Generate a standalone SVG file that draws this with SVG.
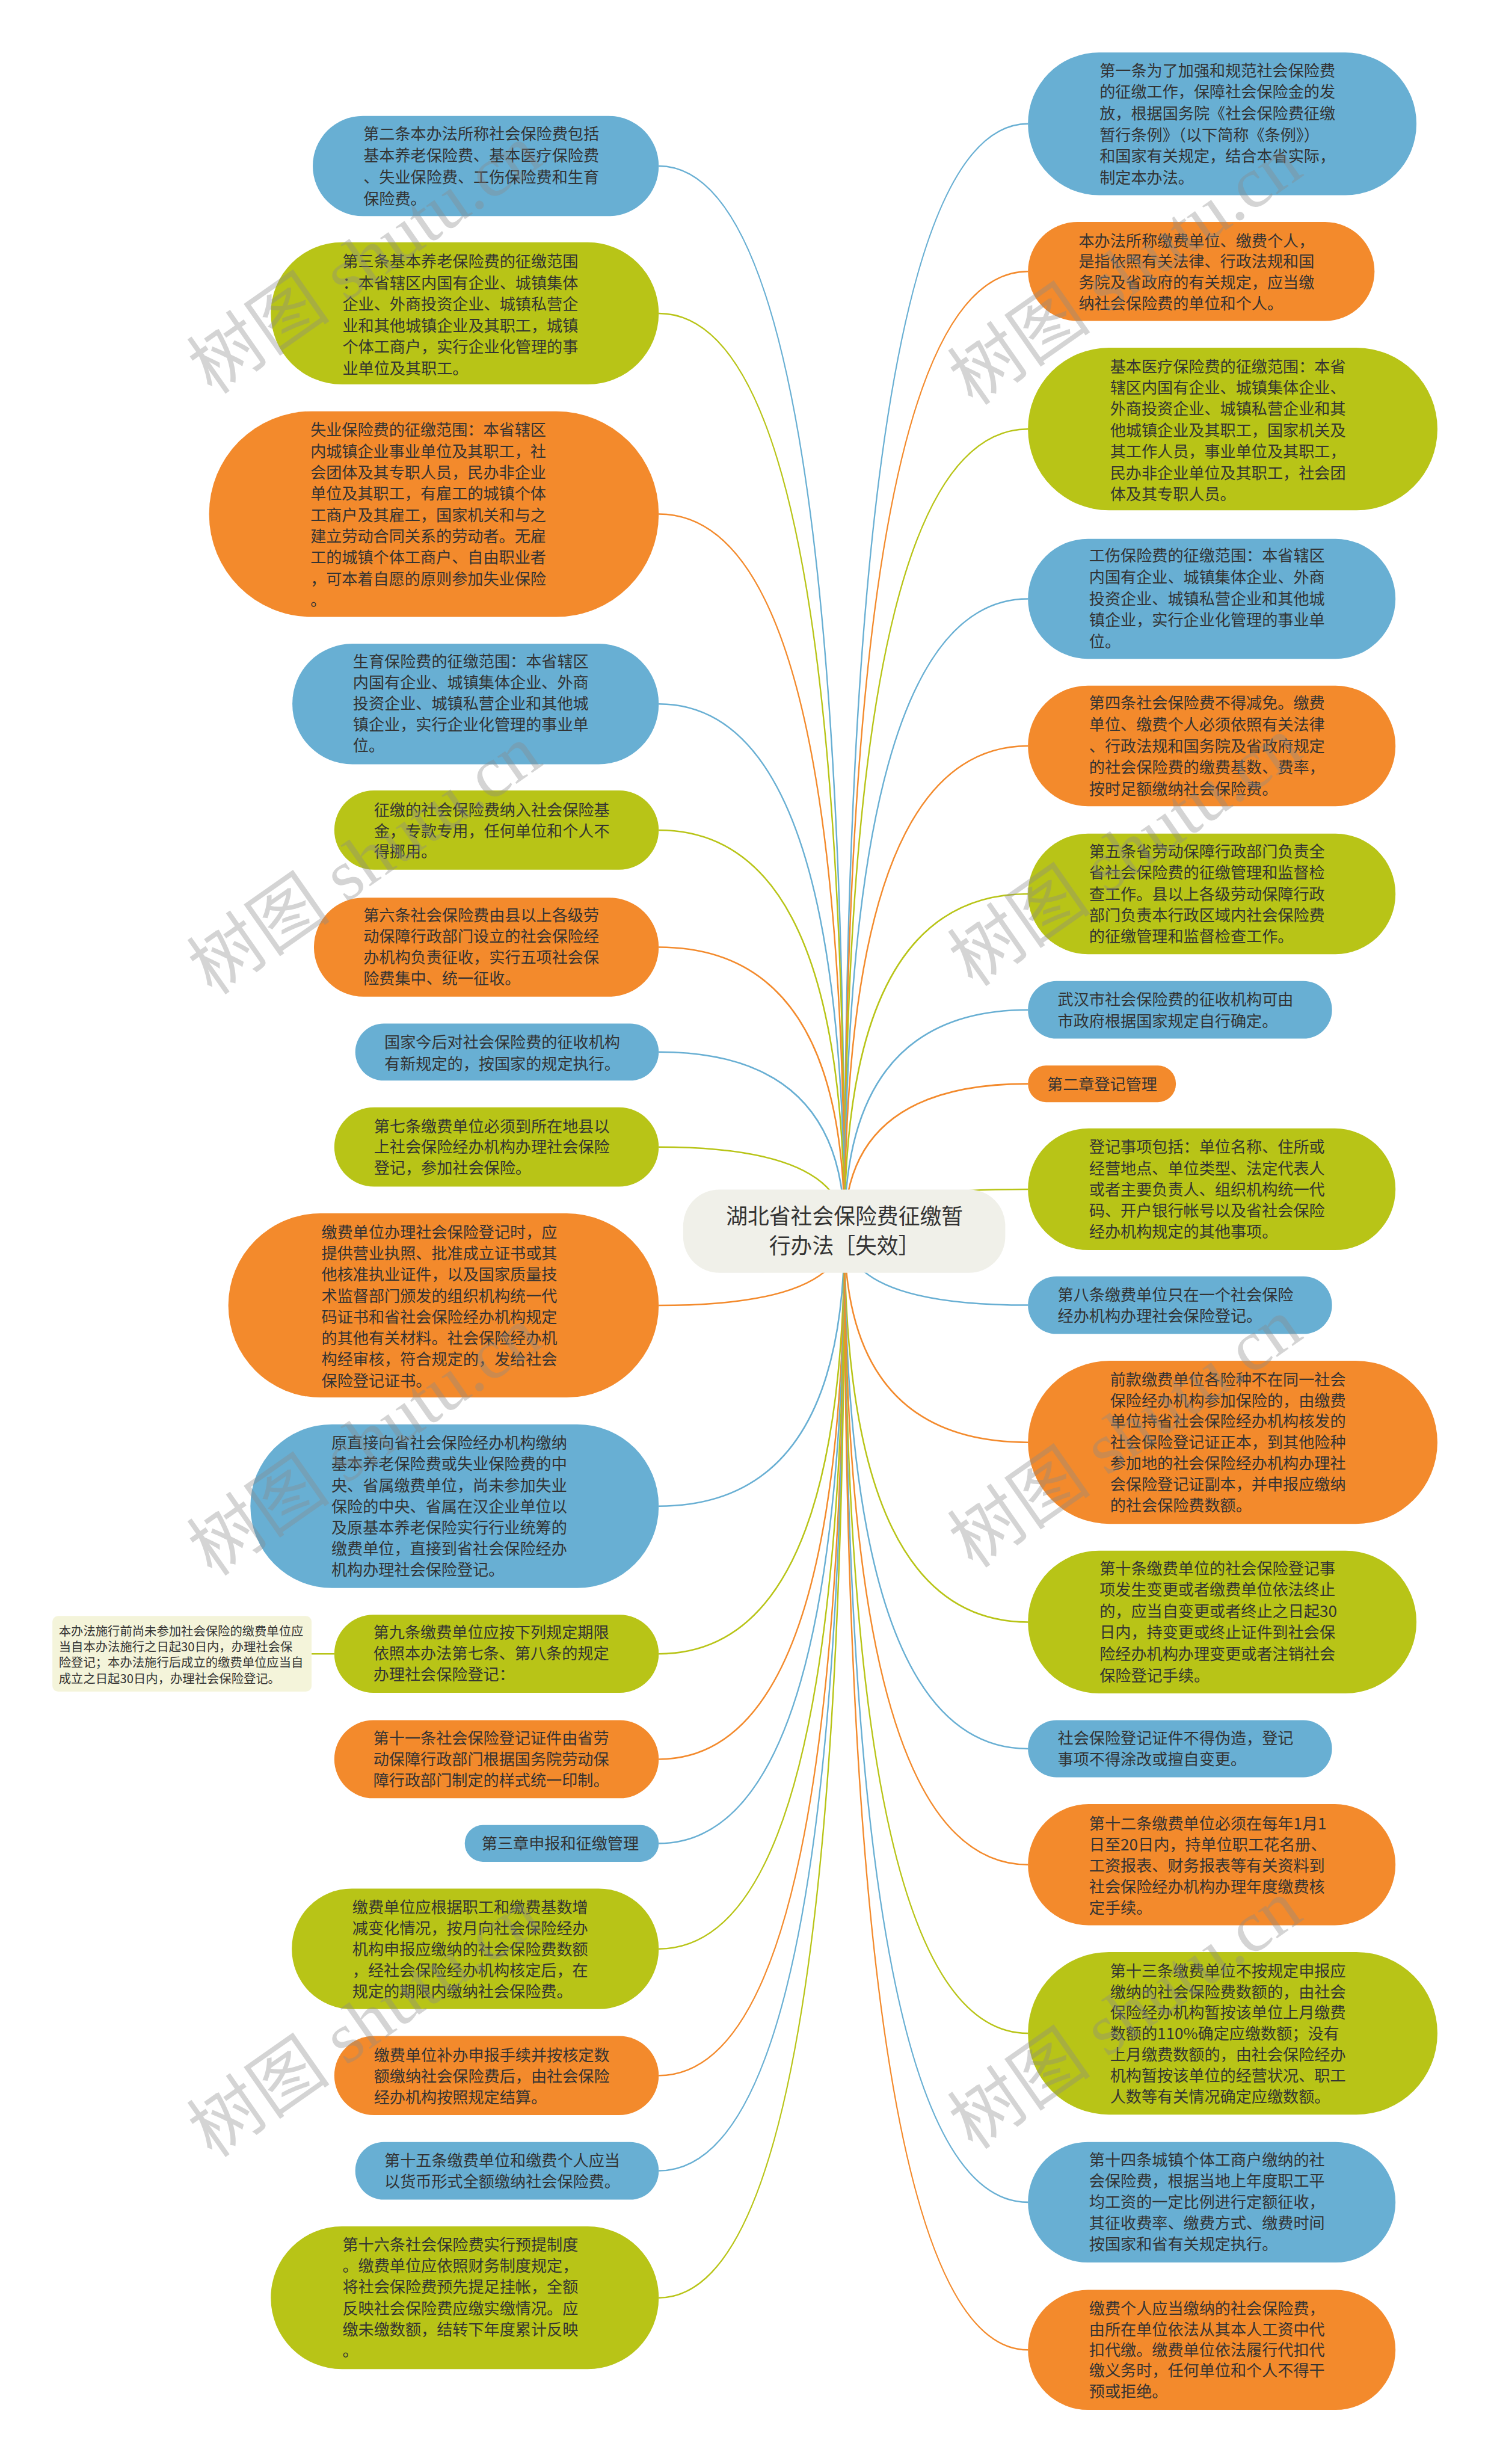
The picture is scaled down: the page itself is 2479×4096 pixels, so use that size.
<svg xmlns="http://www.w3.org/2000/svg" width="2479" height="4096" viewBox="0 0 2479 4096">
<style>
.t{font-family:"Noto Sans CJK SC","Noto Sans",sans-serif;font-size:27px;fill:#333333}
.n{font-family:"Noto Sans CJK SC","Noto Sans",sans-serif;font-size:21px;fill:#333333}
.rt{font-family:"Noto Sans CJK SC","Noto Sans",sans-serif;font-size:37px;fill:#333333;text-anchor:middle}
.b{fill:#68afd3}.g{fill:#b8c417}.o{fill:#f38a2c}
.cb{stroke:#68afd3}.cg{stroke:#b8c417}.co{stroke:#f38a2c}
#connectors path{fill:none;stroke-width:2.6}
.wm{font-family:"Liberation Serif","Noto Sans CJK SC",serif;font-size:124px;fill:#8a8a8a;opacity:0.36}
</style>
<rect width="2479" height="4096" fill="#ffffff"/>
<g transform="scale(0.968359)">
<g id="connectors">
<path class="cb" d="M1131,285 Q1450,285 1450,2113"/>
<path class="cg" d="M1131,538 Q1450,538 1450,2113"/>
<path class="co" d="M1131,882.5 Q1450,882.5 1450,2113"/>
<path class="cb" d="M1131,1208.5 Q1450,1208.5 1450,2113"/>
<path class="cg" d="M1131,1425 Q1450,1425 1450,2113"/>
<path class="co" d="M1131,1626 Q1450,1626 1450,2113"/>
<path class="cb" d="M1131,1806 Q1450,1806 1450,2113"/>
<path class="cg" d="M1131,1969 Q1450,1969 1450,2113"/>
<path class="co" d="M1131,2241 Q1450,2241 1450,2113"/>
<path class="cb" d="M1131,2585.5 Q1450,2585.5 1450,2113"/>
<path class="cg" d="M1131,2839 Q1450,2839 1450,2113"/>
<path class="co" d="M1131,3020 Q1450,3020 1450,2113"/>
<path class="cb" d="M1131,3164.5 Q1450,3164.5 1450,2113"/>
<path class="cg" d="M1131,3345.5 Q1450,3345.5 1450,2113"/>
<path class="co" d="M1131,3563 Q1450,3563 1450,2113"/>
<path class="cb" d="M1131,3726.5 Q1450,3726.5 1450,2113"/>
<path class="cg" d="M1131,3944.5 Q1450,3944.5 1450,2113"/>
<path class="cb" d="M1765,212.5 Q1450,212.5 1450,2113"/>
<path class="co" d="M1765,466 Q1450,466 1450,2113"/>
<path class="cg" d="M1765,736.5 Q1450,736.5 1450,2113"/>
<path class="cb" d="M1765,1028 Q1450,1028 1450,2113"/>
<path class="co" d="M1765,1280.5 Q1450,1280.5 1450,2113"/>
<path class="cg" d="M1765,1534.5 Q1450,1534.5 1450,2113"/>
<path class="cb" d="M1765,1733.5 Q1450,1733.5 1450,2113"/>
<path class="co" d="M1765,1860.5 Q1450,1860.5 1450,2113"/>
<path class="cg" d="M1765,2041.5 Q1450,2041.5 1450,2113"/>
<path class="cb" d="M1765,2240.5 Q1450,2240.5 1450,2113"/>
<path class="co" d="M1765,2476 Q1450,2476 1450,2113"/>
<path class="cg" d="M1765,2784.5 Q1450,2784.5 1450,2113"/>
<path class="cb" d="M1765,3002 Q1450,3002 1450,2113"/>
<path class="co" d="M1765,3201 Q1450,3201 1450,2113"/>
<path class="cg" d="M1765,3490.5 Q1450,3490.5 1450,2113"/>
<path class="cb" d="M1765,3780.5 Q1450,3780.5 1450,2113"/>
<path class="co" d="M1765,4034 Q1450,4034 1450,2113"/>
<path class="cg" d="M535,2839 L574,2839"/>
</g>

<g id="root">
<rect x="1173" y="2042" width="553" height="143" rx="62" fill="#f0f0e9"/>
<text class="rt"><tspan x="1450" y="2101">湖北省社会保险费征缴暂</tspan><tspan x="1450" y="2152">行办法［失效］</tspan></text>
</g>

<g id="L1"><rect class="b" x="537" y="199" width="594" height="172" rx="86"/>
<text class="t"><tspan x="624" y="240">第二条本办法所称社会保险费包括</tspan><tspan x="624" y="277">基本养老保险费、基本医疗保险费</tspan><tspan x="624" y="314">、失业保险费、工伤保险费和生育</tspan><tspan x="624" y="351">保险费。</tspan></text></g>

<g id="L2"><rect class="g" x="465" y="416" width="666" height="244" rx="122"/>
<text class="t"><tspan x="588" y="459">第三条基本养老保险费的征缴范围</tspan><tspan x="588" y="495.6">：本省辖区内国有企业、城镇集体</tspan><tspan x="588" y="532.2">企业、外商投资企业、城镇私营企</tspan><tspan x="588" y="568.8">业和其他城镇企业及其职工，城镇</tspan><tspan x="588" y="605.4">个体工商户，实行企业化管理的事</tspan><tspan x="588" y="642">业单位及其职工。</tspan></text></g>

<g id="L3"><rect class="o" x="359" y="706" width="772" height="353" rx="176"/>
<text class="t"><tspan x="533" y="748">失业保险费的征缴范围：本省辖区</tspan><tspan x="533" y="784.5">内城镇企业事业单位及其职工，社</tspan><tspan x="533" y="821">会团体及其专职人员，民办非企业</tspan><tspan x="533" y="857.5">单位及其职工，有雇工的城镇个体</tspan><tspan x="533" y="894">工商户及其雇工，国家机关和与之</tspan><tspan x="533" y="930.5">建立劳动合同关系的劳动者。无雇</tspan><tspan x="533" y="967">工的城镇个体工商户、自由职业者</tspan><tspan x="533" y="1003.5">，可本着自愿的原则参加失业保险</tspan><tspan x="533" y="1040">。</tspan></text></g>

<g id="L4"><rect class="b" x="502" y="1105" width="629" height="207" rx="103"/>
<text class="t"><tspan x="606" y="1145">生育保险费的征缴范围：本省辖区</tspan><tspan x="606" y="1181.3">内国有企业、城镇集体企业、外商</tspan><tspan x="606" y="1217.6">投资企业、城镇私营企业和其他城</tspan><tspan x="606" y="1253.9">镇企业，实行企业化管理的事业单</tspan><tspan x="606" y="1290.2">位。</tspan></text></g>

<g id="L5"><rect class="g" x="574" y="1357" width="557" height="136" rx="68"/>
<text class="t"><tspan x="642" y="1400">征缴的社会保险费纳入社会保险基</tspan><tspan x="642" y="1436">金，专款专用，任何单位和个人不</tspan><tspan x="642" y="1472">得挪用。</tspan></text></g>

<g id="L6"><rect class="o" x="539" y="1541" width="592" height="170" rx="85"/>
<text class="t"><tspan x="624" y="1581">第六条社会保险费由县以上各级劳</tspan><tspan x="624" y="1617">动保障行政部门设立的社会保险经</tspan><tspan x="624" y="1653">办机构负责征收，实行五项社会保</tspan><tspan x="624" y="1689">险费集中、统一征收。</tspan></text></g>

<g id="L7"><rect class="b" x="610" y="1757" width="521" height="98" rx="49"/>
<text class="t"><tspan x="660" y="1799">国家今后对社会保险费的征收机构</tspan><tspan x="660" y="1836">有新规定的，按国家的规定执行。</tspan></text></g>

<g id="L8"><rect class="g" x="574" y="1901" width="557" height="136" rx="68"/>
<text class="t"><tspan x="642" y="1943">第七条缴费单位必须到所在地县以</tspan><tspan x="642" y="1979">上社会保险经办机构办理社会保险</tspan><tspan x="642" y="2015">登记，参加社会保险。</tspan></text></g>

<g id="L9"><rect class="o" x="392" y="2083" width="739" height="316" rx="158"/>
<text class="t"><tspan x="552" y="2125">缴费单位办理社会保险登记时，应</tspan><tspan x="552" y="2161.4">提供营业执照、批准成立证书或其</tspan><tspan x="552" y="2197.8">他核准执业证件，以及国家质量技</tspan><tspan x="552" y="2234.2">术监督部门颁发的组织机构统一代</tspan><tspan x="552" y="2270.6">码证书和省社会保险经办机构规定</tspan><tspan x="552" y="2307">的其他有关材料。社会保险经办机</tspan><tspan x="552" y="2343.4">构经审核，符合规定的，发给社会</tspan><tspan x="552" y="2379.8">保险登记证书。</tspan></text></g>

<g id="L10"><rect class="b" x="430" y="2445" width="701" height="281" rx="140"/>
<text class="t"><tspan x="569" y="2487">原直接向省社会保险经办机构缴纳</tspan><tspan x="569" y="2523.3">基本养老保险费或失业保险费的中</tspan><tspan x="569" y="2559.6">央、省属缴费单位，尚未参加失业</tspan><tspan x="569" y="2595.9">保险的中央、省属在汉企业单位以</tspan><tspan x="569" y="2632.2">及原基本养老保险实行行业统筹的</tspan><tspan x="569" y="2668.5">缴费单位，直接到省社会保险经办</tspan><tspan x="569" y="2704.8">机构办理社会保险登记。</tspan></text></g>

<g id="L11"><rect class="g" x="574" y="2772" width="557" height="134" rx="67"/>
<text class="t"><tspan x="641" y="2812">第九条缴费单位应按下列规定期限</tspan><tspan x="641" y="2848">依照本办法第七条、第八条的规定</tspan><tspan x="641" y="2884">办理社会保险登记：</tspan></text></g>

<g id="note"><rect x="90" y="2774" width="445" height="130" rx="10" fill="#f4f4da"/>
<text class="n"><tspan x="101" y="2808">本办法施行前尚未参加社会保险的缴费单位应</tspan><tspan x="101" y="2835">当自本办法施行之日起30日内，办理社会保</tspan><tspan x="101" y="2862">险登记；本办法施行后成立的缴费单位应当自</tspan><tspan x="101" y="2889">成立之日起30日内，办理社会保险登记。</tspan></text></g>

<g id="L12"><rect class="o" x="574" y="2953" width="557" height="134" rx="67"/>
<text class="t"><tspan x="641" y="2994">第十一条社会保险登记证件由省劳</tspan><tspan x="641" y="3030">动保障行政部门根据国务院劳动保</tspan><tspan x="641" y="3066">障行政部门制定的样式统一印制。</tspan></text></g>

<g id="L13"><rect class="b" x="798" y="3133" width="333" height="63" rx="31"/>
<text class="t"><tspan x="827" y="3174">第三章申报和征缴管理</tspan></text></g>

<g id="L14"><rect class="g" x="501" y="3242" width="630" height="207" rx="103"/>
<text class="t"><tspan x="605" y="3284">缴费单位应根据职工和缴费基数增</tspan><tspan x="605" y="3320">减变化情况，按月向社会保险经办</tspan><tspan x="605" y="3356">机构申报应缴纳的社会保险费数额</tspan><tspan x="605" y="3392">，经社会保险经办机构核定后，在</tspan><tspan x="605" y="3428">规定的期限内缴纳社会保险费。</tspan></text></g>

<g id="L15"><rect class="o" x="574" y="3495" width="557" height="136" rx="68"/>
<text class="t"><tspan x="642" y="3538">缴费单位补办申报手续并按核定数</tspan><tspan x="642" y="3574">额缴纳社会保险费后，由社会保险</tspan><tspan x="642" y="3610">经办机构按照规定结算。</tspan></text></g>

<g id="L16"><rect class="b" x="610" y="3677" width="521" height="99" rx="49"/>
<text class="t"><tspan x="660" y="3719">第十五条缴费单位和缴费个人应当</tspan><tspan x="660" y="3755">以货币形式全额缴纳社会保险费。</tspan></text></g>

<g id="L17"><rect class="g" x="465" y="3822" width="666" height="245" rx="122"/>
<text class="t"><tspan x="588" y="3863">第十六条社会保险费实行预提制度</tspan><tspan x="588" y="3899.5">。缴费单位应依照财务制度规定，</tspan><tspan x="588" y="3936">将社会保险费预先提足挂帐，全额</tspan><tspan x="588" y="3972.5">反映社会保险费应缴实缴情况。应</tspan><tspan x="588" y="4009">缴未缴数额，结转下年度累计反映</tspan><tspan x="588" y="4045.5">。</tspan></text></g>

<g id="R1"><rect class="b" x="1765" y="90" width="667" height="245" rx="122"/>
<text class="t"><tspan x="1888" y="131">第一条为了加强和规范社会保险费</tspan><tspan x="1888" y="167.8">的征缴工作，保障社会保险金的发</tspan><tspan x="1888" y="204.6">放，根据国务院《社会保险费征缴</tspan><tspan x="1888" y="241.4">暂行条例》（以下简称《条例》）</tspan><tspan x="1888" y="278.2">和国家有关规定，结合本省实际，</tspan><tspan x="1888" y="315">制定本办法。</tspan></text></g>

<g id="R2"><rect class="o" x="1765" y="381" width="595" height="170" rx="85"/>
<text class="t"><tspan x="1852" y="423">本办法所称缴费单位、缴费个人，</tspan><tspan x="1852" y="459">是指依照有关法律、行政法规和国</tspan><tspan x="1852" y="495">务院及省政府的有关规定，应当缴</tspan><tspan x="1852" y="531">纳社会保险费的单位和个人。</tspan></text></g>

<g id="R3"><rect class="g" x="1765" y="597" width="703" height="279" rx="139"/>
<text class="t"><tspan x="1906" y="639">基本医疗保险费的征缴范围：本省</tspan><tspan x="1906" y="675.5">辖区内国有企业、城镇集体企业、</tspan><tspan x="1906" y="712">外商投资企业、城镇私营企业和其</tspan><tspan x="1906" y="748.5">他城镇企业及其职工，国家机关及</tspan><tspan x="1906" y="785">其工作人员，事业单位及其职工，</tspan><tspan x="1906" y="821.5">民办非企业单位及其职工，社会团</tspan><tspan x="1906" y="858">体及其专职人员。</tspan></text></g>

<g id="R4"><rect class="b" x="1765" y="925" width="631" height="206" rx="103"/>
<text class="t"><tspan x="1870" y="964">工伤保险费的征缴范围：本省辖区</tspan><tspan x="1870" y="1000.7">内国有企业、城镇集体企业、外商</tspan><tspan x="1870" y="1037.4">投资企业、城镇私营企业和其他城</tspan><tspan x="1870" y="1074.1">镇企业，实行企业化管理的事业单</tspan><tspan x="1870" y="1110.8">位。</tspan></text></g>

<g id="R5"><rect class="o" x="1765" y="1177" width="631" height="207" rx="103"/>
<text class="t"><tspan x="1870" y="1217">第四条社会保险费不得减免。缴费</tspan><tspan x="1870" y="1253.7">单位、缴费个人必须依照有关法律</tspan><tspan x="1870" y="1290.4">、行政法规和国务院及省政府规定</tspan><tspan x="1870" y="1327.1">的社会保险费的缴费基数、费率，</tspan><tspan x="1870" y="1363.8">按时足额缴纳社会保险费。</tspan></text></g>

<g id="R6"><rect class="g" x="1765" y="1431" width="631" height="207" rx="103"/>
<text class="t"><tspan x="1870" y="1472">第五条省劳动保障行政部门负责全</tspan><tspan x="1870" y="1508.2">省社会保险费的征缴管理和监督检</tspan><tspan x="1870" y="1544.4">查工作。县以上各级劳动保障行政</tspan><tspan x="1870" y="1580.6">部门负责本行政区域内社会保险费</tspan><tspan x="1870" y="1616.8">的征缴管理和监督检查工作。</tspan></text></g>

<g id="R7"><rect class="b" x="1765" y="1684" width="522" height="99" rx="49"/>
<text class="t"><tspan x="1816" y="1726">武汉市社会保险费的征收机构可由</tspan><tspan x="1816" y="1763">市政府根据国家规定自行确定。</tspan></text></g>

<g id="R8"><rect class="o" x="1765" y="1829" width="254" height="63" rx="31"/>
<text class="t"><tspan x="1798" y="1871">第二章登记管理</tspan></text></g>

<g id="R9"><rect class="g" x="1765" y="1937" width="631" height="209" rx="104"/>
<text class="t"><tspan x="1870" y="1979">登记事项包括：单位名称、住所或</tspan><tspan x="1870" y="2015.4">经营地点、单位类型、法定代表人</tspan><tspan x="1870" y="2051.8">或者主要负责人、组织机构统一代</tspan><tspan x="1870" y="2088.2">码、开户银行帐号以及省社会保险</tspan><tspan x="1870" y="2124.6">经办机构规定的其他事项。</tspan></text></g>

<g id="R10"><rect class="b" x="1765" y="2191" width="522" height="99" rx="49"/>
<text class="t"><tspan x="1816" y="2233">第八条缴费单位只在一个社会保险</tspan><tspan x="1816" y="2269">经办机构办理社会保险登记。</tspan></text></g>

<g id="R11"><rect class="o" x="1765" y="2336" width="703" height="280" rx="140"/>
<text class="t"><tspan x="1906" y="2378">前款缴费单位各险种不在同一社会</tspan><tspan x="1906" y="2414">保险经办机构参加保险的，由缴费</tspan><tspan x="1906" y="2450">单位持省社会保险经办机构核发的</tspan><tspan x="1906" y="2486">社会保险登记证正本，到其他险种</tspan><tspan x="1906" y="2522">参加地的社会保险经办机构办理社</tspan><tspan x="1906" y="2558">会保险登记证副本，并申报应缴纳</tspan><tspan x="1906" y="2594">的社会保险费数额。</tspan></text></g>

<g id="R12"><rect class="g" x="1765" y="2662" width="667" height="245" rx="122"/>
<text class="t"><tspan x="1888" y="2702">第十条缴费单位的社会保险登记事</tspan><tspan x="1888" y="2738.8">项发生变更或者缴费单位依法终止</tspan><tspan x="1888" y="2775.6">的，应当自变更或者终止之日起30</tspan><tspan x="1888" y="2812.4">日内，持变更或终止证件到社会保</tspan><tspan x="1888" y="2849.2">险经办机构办理变更或者注销社会</tspan><tspan x="1888" y="2886">保险登记手续。</tspan></text></g>

<g id="R13"><rect class="b" x="1765" y="2953" width="522" height="98" rx="49"/>
<text class="t"><tspan x="1816" y="2994">社会保险登记证件不得伪造，登记</tspan><tspan x="1816" y="3030">事项不得涂改或擅自变更。</tspan></text></g>

<g id="R14"><rect class="o" x="1765" y="3097" width="631" height="208" rx="104"/>
<text class="t"><tspan x="1870" y="3140">第十二条缴费单位必须在每年1月1</tspan><tspan x="1870" y="3176.3">日至20日内，持单位职工花名册、</tspan><tspan x="1870" y="3212.6">工资报表、财务报表等有关资料到</tspan><tspan x="1870" y="3248.9">社会保险经办机构办理年度缴费核</tspan><tspan x="1870" y="3285.2">定手续。</tspan></text></g>

<g id="R15"><rect class="g" x="1765" y="3351" width="703" height="279" rx="139"/>
<text class="t"><tspan x="1906" y="3393">第十三条缴费单位不按规定申报应</tspan><tspan x="1906" y="3429">缴纳的社会保险费数额的，由社会</tspan><tspan x="1906" y="3465">保险经办机构暂按该单位上月缴费</tspan><tspan x="1906" y="3501">数额的110%确定应缴数额；没有</tspan><tspan x="1906" y="3537">上月缴费数额的，由社会保险经办</tspan><tspan x="1906" y="3573">机构暂按该单位的经营状况、职工</tspan><tspan x="1906" y="3609">人数等有关情况确定应缴数额。</tspan></text></g>

<g id="R16"><rect class="b" x="1765" y="3677" width="631" height="207" rx="103"/>
<text class="t"><tspan x="1870" y="3718">第十四条城镇个体工商户缴纳的社</tspan><tspan x="1870" y="3754">会保险费，根据当地上年度职工平</tspan><tspan x="1870" y="3790">均工资的一定比例进行定额征收，</tspan><tspan x="1870" y="3826">其征收费率、缴费方式、缴费时间</tspan><tspan x="1870" y="3862">按国家和省有关规定执行。</tspan></text></g>

<g id="R17"><rect class="o" x="1765" y="3931" width="631" height="206" rx="103"/>
<text class="t"><tspan x="1870" y="3973">缴费个人应当缴纳的社会保险费，</tspan><tspan x="1870" y="4008.5">由所在单位依法从其本人工资中代</tspan><tspan x="1870" y="4044">扣代缴。缴费单位依法履行代扣代</tspan><tspan x="1870" y="4079.5">缴义务时，任何单位和个人不得干</tspan><tspan x="1870" y="4115">预或拒绝。</tspan></text></g>

<g id="watermarks">
<text class="wm" transform="translate(650,480) rotate(-35)" text-anchor="middle">树图 shutu.cn</text>
<text class="wm" transform="translate(650,1511) rotate(-35)" text-anchor="middle">树图 shutu.cn</text>
<text class="wm" transform="translate(650,2509) rotate(-35)" text-anchor="middle">树图 shutu.cn</text>
<text class="wm" transform="translate(650,3507) rotate(-35)" text-anchor="middle">树图 shutu.cn</text>
<text class="wm" transform="translate(1956,499) rotate(-35)" text-anchor="middle">树图 shutu.cn</text>
<text class="wm" transform="translate(1956,1497) rotate(-35)" text-anchor="middle">树图 shutu.cn</text>
<text class="wm" transform="translate(1956,2495) rotate(-35)" text-anchor="middle">树图 shutu.cn</text>
<text class="wm" transform="translate(1956,3493) rotate(-35)" text-anchor="middle">树图 shutu.cn</text>
</g>
</g>
</svg>
